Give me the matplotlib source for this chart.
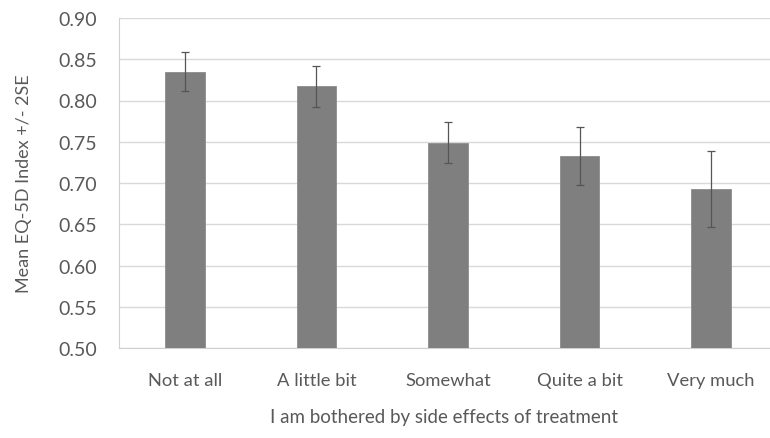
import matplotlib.pyplot as plt

categories = ['Not at all', 'A little bit', 'Somewhat', 'Quite a bit', 'Very much']
means = [0.835, 0.817, 0.749, 0.733, 0.693]
err = [0.024, 0.025, 0.025, 0.035, 0.046]
yticks = [0.50, 0.55, 0.60, 0.65, 0.70, 0.75, 0.80, 0.85, 0.90]

plt.rcParams['font.family'] = ['Lato', 'DejaVu Sans']

fig = plt.figure(figsize=(7.7, 4.39), dpi=100)
ax = fig.add_axes([119 / 770, 1 - 349 / 439, 651 / 770, 330 / 439])

x = range(len(categories))
ax.bar(x, means, width=0.30, color='#7f7f7f', edgecolor='#8c8c8c', linewidth=0.6, zorder=3)
ax.errorbar(x, means, yerr=err, fmt='none', ecolor='#555555', elinewidth=0.9,
            capsize=3, capthick=0.9, zorder=4)

ax.set_ylim(0.50, 0.90)
ax.set_xlim(-0.5, 4.447)
ax.set_yticks(yticks)
ax.set_yticklabels([f'{v:.2f}' for v in yticks])
ax.set_xticks(list(x))
ax.set_xticklabels(categories)

ax.grid(axis='y', color='#d9d9d9', linewidth=1.0, zorder=0)
for s in ['top', 'right']:
    ax.spines[s].set_visible(False)
ax.spines['left'].set_color('#d0d0d0')
ax.spines['bottom'].set_color('#d0d0d0')
ax.tick_params(axis='y', length=0, labelsize=14, colors='#595959', pad=16)
ax.tick_params(axis='x', length=0, labelsize=13.2, colors='#595959', pad=17)

ax.set_ylabel('Mean EQ-5D Index +/- 2SE', fontsize=13, color='#595959', labelpad=19)
ax.set_xlabel('I am bothered by side effects of treatment', fontsize=13.5,
              color='#595959', labelpad=15)

fig.savefig('out.png', dpi=100)
